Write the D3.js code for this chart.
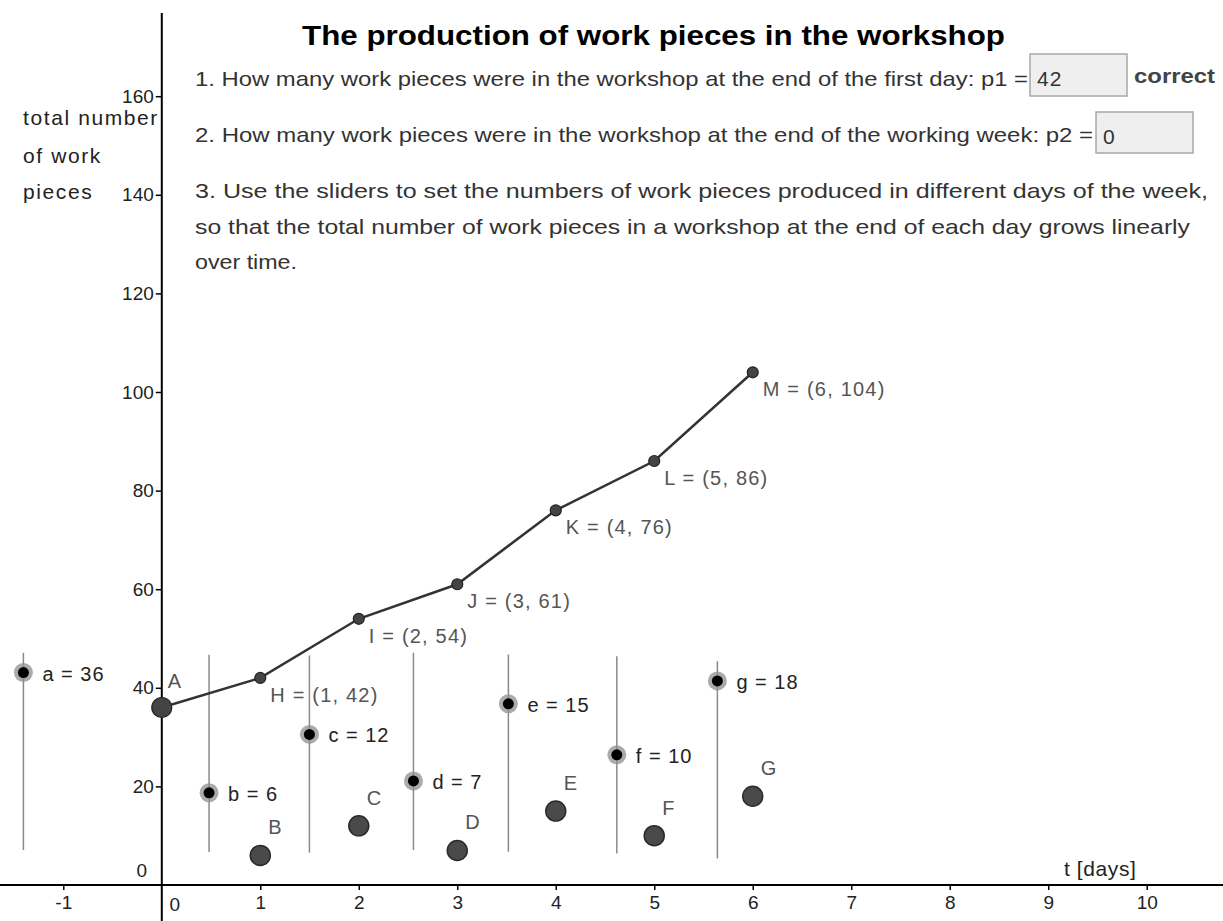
<!DOCTYPE html>
<html>
<head>
<meta charset="utf-8">
<script src="https://cdn.jsdelivr.net/npm/d3@7"></script>
<style>
  body { margin: 0; background: #fff; }
  svg { display: block; font-family: "Liberation Sans", Arial, sans-serif; }
</style>
</head>
<body>
<svg id="chart" width="1223" height="921"></svg>
<script>
// values
const days = [0, 1, 2, 3, 4, 5, 6];
const totalNames = ["A", "H", "I", "J", "K", "L", "M"];
const totals = [36, 42, 54, 61, 76, 86, 104];
const dailyNames = ["B", "C", "D", "E", "F", "G"];
const dailyDays = [1, 2, 3, 4, 5, 6];
const dailyValues = [6, 12, 7, 15, 10, 18];
const sliderNames = ["a", "b", "c", "d", "e", "f", "g"];
const sliderValues = [36, 6, 12, 7, 15, 10, 18];
const sliderMax = [40, 20, 20, 20, 20, 20, 20];
const xTicks = [-1, 1, 2, 3, 4, 5, 6, 7, 8, 9, 10];
const yTicks = [20, 40, 60, 80, 100, 120, 140, 160];
const title = "The production of work pieces in the workshop";
const questions = [
  "1. How many work pieces were in the workshop at the end of the first day: p1 =",
  "2. How many work pieces were in the workshop at the end of the working week: p2 =",
  "3. Use the sliders to set the numbers of work pieces produced in different days of the week,",
  "so that the total number of work pieces in a workshop at the end of each day grows linearly",
  "over time."
];
const answers = ["42", "0"];
const yTitle = ["total number", "of work", "pieces"];

// slider placement on the sheet (in axis units), not data
const sliderT = [-1.405, 0.48, 1.499, 2.555, 3.519, 4.62, 5.641];
const sliderBase = [7.1, 6.7, 6.55, 7.1, 6.75, 6.4, 5.4];
const sliderLen = 40;

const svg = d3.select("#chart");
const x = d3.scaleLinear().domain([-1, 10]).range([63.3, 1146.7]);
const y = d3.scaleLinear().domain([0, 100]).range([885, 392]);

// axes
svg.append("line").attr("x1", 0).attr("x2", 1223).attr("y1", y(0)).attr("y2", y(0))
  .attr("stroke", "#000").attr("stroke-width", 2);
svg.append("line").attr("x1", x(0)).attr("x2", x(0)).attr("y1", 13).attr("y2", 921)
  .attr("stroke", "#000").attr("stroke-width", 2);

const gx = svg.append("g").attr("transform", `translate(0,${y(0)})`)
  .call(d3.axisBottom(x).tickValues(xTicks).tickSize(5).tickPadding(6).tickFormat(d => String(d)));
const gy = svg.append("g").attr("transform", `translate(${x(0)},0)`)
  .call(d3.axisLeft(y).tickValues(yTicks).tickSize(6).tickPadding(2));
[gx, gy].forEach(g => {
  g.select(".domain").remove();
  g.selectAll(".tick line").attr("stroke", "#000").attr("stroke-width", 1.5);
  g.selectAll(".tick text").attr("font-size", 19).attr("fill", "#222")
    .attr("font-family", "Liberation Sans, Arial, sans-serif");
});
svg.append("text").attr("x", x(0) + 13).attr("y", y(0) + 26).attr("font-size", 19)
  .attr("fill", "#222").attr("text-anchor", "middle").text("0");
svg.append("text").attr("x", x(0) - 20).attr("y", y(0) - 8).attr("font-size", 19)
  .attr("fill", "#222").attr("text-anchor", "middle").text("0");

svg.append("text").attr("x", 1064).attr("y", 876).attr("font-size", 21)
  .attr("fill", "#222").attr("letter-spacing", 0.6).text("t [days]");

svg.selectAll(".ytitle").data(yTitle).enter().append("text")
  .attr("x", 23).attr("y", (d, i) => [125, 163, 199][i])
  .attr("font-size", 21).attr("fill", "#222").attr("letter-spacing", 1.6)
  .text(d => d);

// header texts
svg.append("text").attr("x", 302).attr("y", 45).attr("font-size", 28)
  .attr("font-weight", "bold").attr("fill", "#000")
  .attr("textLength", 703).attr("lengthAdjust", "spacingAndGlyphs").text(title);

const qWidths = [833, 898, 1013, 995, 102];
const qBase = [86, 142, 198, 234, 269];
svg.selectAll(".q").data(questions).enter().append("text")
  .attr("x", 195).attr("y", (d, i) => qBase[i])
  .attr("font-size", 21).attr("fill", "#333")
  .attr("textLength", (d, i) => qWidths[i]).attr("lengthAdjust", "spacingAndGlyphs")
  .text(d => d);

const boxes = [{ x: 1030, y: 54, w: 97, h: 42 }, { x: 1096, y: 112, w: 97, h: 41 }];
boxes.forEach((b, i) => {
  svg.append("rect").attr("x", b.x).attr("y", b.y).attr("width", b.w).attr("height", b.h)
    .attr("fill", "#efefef").attr("stroke", "#a8a8a8").attr("stroke-width", 1.5);
  svg.append("text").attr("x", b.x + 7).attr("y", b.y + 32).attr("font-size", 21)
    .attr("fill", "#333").attr("letter-spacing", 1).text(answers[i]);
});
svg.append("text").attr("x", 1134).attr("y", 83).attr("font-size", 21)
  .attr("font-weight", "bold").attr("fill", "#444")
  .attr("textLength", 81).attr("lengthAdjust", "spacingAndGlyphs").text("correct");

// sliders
const sliders = sliderNames.map((n, i) => ({
  name: n, value: sliderValues[i], max: sliderMax[i], t: sliderT[i], base: sliderBase[i]
}));
const gs = svg.append("g");
gs.selectAll("line").data(sliders).enter().append("line")
  .attr("x1", d => x(d.t)).attr("x2", d => x(d.t))
  .attr("y1", d => y(d.base)).attr("y2", d => y(d.base + sliderLen))
  .attr("stroke", "#8a8a8a").attr("stroke-width", 1.5);
const handleY = d => y(d.base + d.value / d.max * sliderLen);
gs.selectAll(".halo").data(sliders).enter().append("circle")
  .attr("cx", d => x(d.t)).attr("cy", handleY).attr("r", 9.5)
  .attr("fill", "#8f8f8f").attr("fill-opacity", 0.75);
gs.selectAll(".knob").data(sliders).enter().append("circle")
  .attr("cx", d => x(d.t)).attr("cy", handleY).attr("r", 5.5)
  .attr("fill", "#000");
gs.selectAll("text").data(sliders).enter().append("text")
  .attr("x", d => x(d.t) + 19).attr("y", d => handleY(d) + 8)
  .attr("font-size", 20).attr("fill", "#222").attr("letter-spacing", 1)
  .text(d => `${d.name} = ${d.value}`);

// daily production points
const daily = dailyNames.map((n, i) => ({ name: n, t: dailyDays[i], v: dailyValues[i] }));
svg.selectAll(".daily").data(daily).enter().append("circle")
  .attr("cx", d => x(d.t)).attr("cy", d => y(d.v)).attr("r", 10)
  .attr("fill", "#4a4a4a").attr("stroke", "#2a2a2a").attr("stroke-width", 1.5);
svg.selectAll(".dlab").data(daily).enter().append("text")
  .attr("x", d => x(d.t) + 8).attr("y", d => y(d.v) - 21)
  .attr("font-size", 20).attr("fill", "#555").text(d => d.name);

// total points and polyline
const pts = totalNames.map((n, i) => ({ name: n, t: days[i], v: totals[i] }));
svg.append("path").datum(pts)
  .attr("d", d3.line().x(d => x(d.t)).y(d => y(d.v)))
  .attr("fill", "none").attr("stroke", "#333").attr("stroke-width", 2.5);
svg.selectAll(".tot").data(pts).enter().append("circle")
  .attr("cx", d => x(d.t)).attr("cy", d => y(d.v)).attr("r", (d, i) => i === 0 ? 10 : 5.5)
  .attr("fill", "#444").attr("stroke", "#222").attr("stroke-width", 1.2);
svg.selectAll(".tlab").data(pts).enter().append("text")
  .attr("x", (d, i) => i === 0 ? x(d.t) + 6 : x(d.t) + 10)
  .attr("y", (d, i) => i === 0 ? y(d.v) - 20 : y(d.v) + 24)
  .attr("font-size", 20).attr("fill", "#555").attr("letter-spacing", (d, i) => i === 0 ? 0 : 1.2)
  .text((d, i) => i === 0 ? d.name : `${d.name} = (${d.t}, ${d.v})`);
</script>
</body>
</html>
